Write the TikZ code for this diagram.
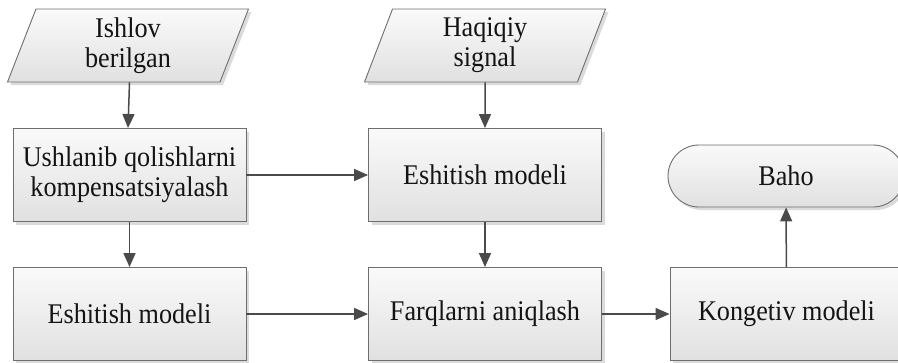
\documentclass[tikz,border=0pt]{standalone}
\usepackage{fontspec}
\setmainfont[FakeStretch=0.92]{Liberation Serif}
\usetikzlibrary{arrows.meta,shapes.geometric,shadows}

\definecolor{edgegray}{HTML}{6E6E6E}
\definecolor{linegray}{HTML}{4A4A4A}
\definecolor{inkgray}{HTML}{141414}

\tikzset{
  blockbase/.style={
    draw=edgegray, line width=0.9pt,
    top color=white!98!black, bottom color=white!88!black,
    text=inkgray, align=center, inner sep=0pt,
    font=\fontsize{28.5}{30}\selectfont,
    drop shadow={shadow xshift=3pt, shadow yshift=-3pt, fill=black!14, opacity=1}
  },
  procbox/.style={blockbase, rectangle, minimum width=233pt, minimum height=93pt},
  iobox/.style={blockbase, trapezium, trapezium left angle=63, trapezium right angle=117,
    trapezium stretches body, minimum width=241pt, minimum height=73pt},
  termbox/.style={blockbase, rectangle, rounded corners=31pt, minimum width=236pt, minimum height=62pt},
  flow/.style={draw=linegray, line width=1.5pt, -{Triangle[length=14pt,width=12pt]}, fill=linegray}
}

\begin{document}
\begin{tikzpicture}[x=1pt,y=-1pt]
  \clip (0,0) rectangle (898,362);
  \useasboundingbox (0,0) rectangle (898,362);

  % inputs
  \node[iobox] (ishlov) at (128,45.5) {Ishlov\\berilgan};
  \node[iobox] (haqiqiy) at (485,45.5) {Haqiqiy\\signal};

  % processing blocks
  \node[procbox] (komp) at (129.5,175) {Ushlanib qolishlarni\\kompensatsiyalash};
  \node[procbox] (eshA) at (485,175) {Eshitish modeli};
  \node[procbox] (eshB) at (129.5,314) {Eshitish modeli};
  \node[procbox] (farq) at (485,314) {Farqlarni aniqlash};
  \node[procbox] (kong) at (786.5,314) {Kongetiv modeli};

  % result
  \node[termbox] (baho) at (786,176) {Baho};

  % connectors
  \draw[flow] (ishlov.south -| komp.north) -- (komp.north -| ishlov.south);
  \draw[flow] (haqiqiy) -- (eshA);
  \draw[flow] (komp) -- (eshA);
  \draw[flow] (komp) -- (eshB);
  \draw[flow] (eshA) -- (farq);
  \draw[flow] (eshB) -- (farq);
  \draw[flow] (farq) -- (kong);
  \draw[flow] (kong) -- (baho);
\end{tikzpicture}
\end{document}
